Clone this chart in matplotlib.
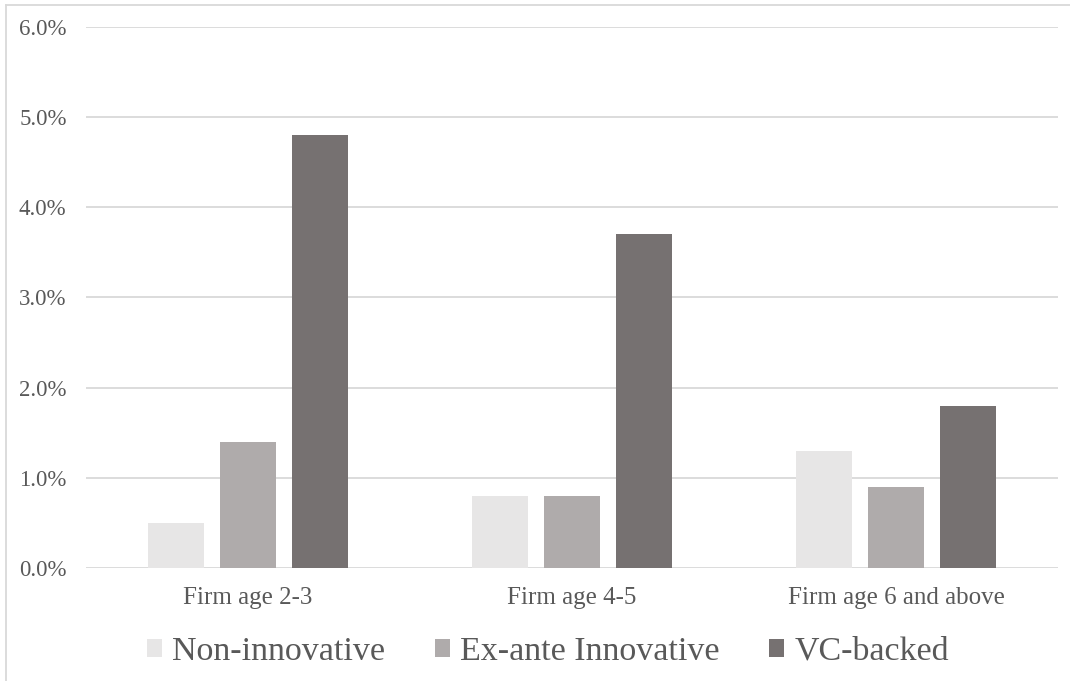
import numpy as np
import matplotlib
matplotlib.use("Agg")
import matplotlib.pyplot as plt
from matplotlib.patches import Patch
from matplotlib.lines import Line2D
from matplotlib.ticker import FuncFormatter

categories = ["Firm age 2-3", "Firm age 4-5", "Firm age 6 and above"]
series_names = ["Non-innovative", "Ex-ante Innovative", "VC-backed"]
non_innovative = [0.5, 0.8, 1.3]
ex_ante_innovative = [1.4, 0.8, 0.9]
vc_backed = [4.8, 3.7, 1.8]
colors = ["#E7E6E6", "#AFABAB", "#767171"]

plt.rcParams["font.family"] = ["Liberation Serif", "DejaVu Serif"]
txt = "#595959"

fig = plt.figure(figsize=(10.70, 6.81), dpi=100)
ax = fig.add_axes([0.0804, 0.1659, 0.9084, 0.7945])

x = np.arange(len(categories))
w = 0.175
step = 0.222
for i, (vals, c) in enumerate(zip([non_innovative, ex_ante_innovative, vc_backed], colors)):
    ax.bar(x + (i - 1) * step, vals, w, color=c, zorder=3)

ax.set_xlim(-0.5, 2.5)
ax.set_ylim(0, 6)
ax.set_yticks(np.arange(0, 7, 1))
ax.yaxis.set_major_formatter(FuncFormatter(lambda v, p: f"{v:.1f}%"))
ax.set_xticks(x)
ax.set_xticklabels(categories)
ax.grid(axis="y", color="#D9D9D9", linewidth=1.3, zorder=0)
for s in ax.spines.values():
    s.set_visible(False)
ax.tick_params(axis="both", length=0, colors=txt)
ax.tick_params(axis="y", labelsize=16.5, pad=14)
ax.tick_params(axis="x", labelsize=18, pad=14)

handles = [Patch(facecolor=c, label=n) for c, n in zip(colors, series_names)]
fig.legend(handles=handles, loc="center", bbox_to_anchor=(0.512, 0.043), ncol=3,
           frameon=False, fontsize=24.5, labelcolor=txt, handlelength=0.45,
           handleheight=0.45, handletextpad=0.3, columnspacing=1.45)

# outer border (top and left only visible)
fig.add_artist(Line2D([6 / 1070, 6 / 1070], [0, 1 - 5 / 681], color="#D9D9D9", lw=1.3))
fig.add_artist(Line2D([6 / 1070, 1], [1 - 5 / 681, 1 - 5 / 681], color="#D9D9D9", lw=1.3))

fig.savefig("out.png", dpi=100)
